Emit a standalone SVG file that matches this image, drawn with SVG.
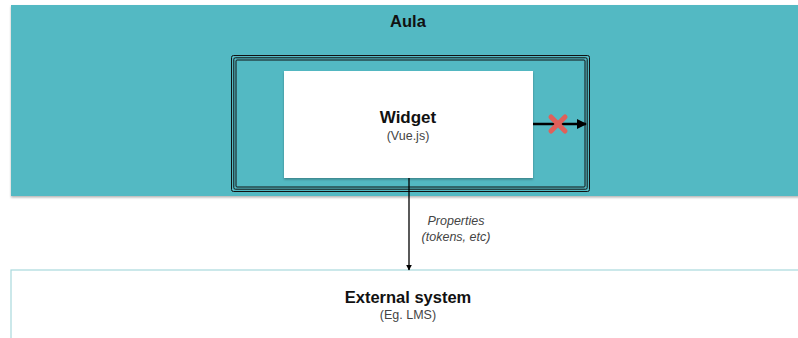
<svg xmlns="http://www.w3.org/2000/svg" width="798" height="338" viewBox="0 0 798 338">
<defs>
<style>
text{font-family:"Liberation Sans",Arial,sans-serif;text-anchor:middle}
.t{font-weight:bold;fill:#111}
.s{fill:#444;font-size:12.5px}
.frame{fill:none;stroke:#111;stroke-width:1}
</style>
<filter id="sh" x="-5%" y="-5%" width="110%" height="120%">
<feDropShadow dx="0" dy="1.5" stdDeviation="1.2" flood-color="#000" flood-opacity="0.3"/>
</filter>
<marker id="ah" viewBox="0 0 10 10" refX="9" refY="5" markerWidth="6" markerHeight="6" markerUnits="userSpaceOnUse" orient="auto">
<path d="M0,0L10,5L0,10z" fill="#000"/>
</marker>
<marker id="ah2" viewBox="0 0 10 10" refX="9" refY="5" markerWidth="4" markerHeight="4" orient="auto">
<path d="M0,0L10,5L0,10z" fill="#000"/>
</marker>
</defs>
<g id="aula">
<rect x="11" y="5" width="800" height="191" fill="#52B9C3" filter="url(#sh)"/>
<text class="t" x="408" y="27" font-size="16.5">Aula</text>
</g>
<g id="frame">
<rect class="frame" x="231.5" y="55.5" width="358" height="136" rx="2"/>
<rect class="frame" x="233.8" y="57.8" width="353.4" height="131.4" rx="1.5"/>
<rect class="frame" x="236" y="60" width="349" height="127" rx="1"/>
</g>
<g id="widget">
<rect x="284" y="71" width="249" height="107" fill="#fff" filter="url(#sh)"/>
<text class="t" x="408" y="123" font-size="17">Widget</text>
<text class="s" x="408" y="140">(Vue.js)</text>
</g>
<g id="external">
<rect x="11" y="270" width="800" height="80" fill="#fff" stroke="#A9D9DD" stroke-width="1.2"/>
<text class="t" x="408" y="303" font-size="16.5">External system</text>
<text class="s" x="408" y="319">(Eg. LMS)</text>
</g>
<g id="connectors">
<line x1="409" y1="178" x2="409" y2="270" stroke="#000" stroke-width="1.3" marker-end="url(#ah)"/>
<text class="s" x="456" y="225" font-style="italic">Properties</text>
<text class="s" x="456" y="241" font-style="italic">(tokens, etc)</text>
<line x1="533" y1="124" x2="586" y2="124" stroke="#000" stroke-width="2.5" marker-end="url(#ah2)"/>
<g id="blocked" stroke="#E0605A" stroke-width="5" stroke-linecap="round">
<line x1="551" y1="117" x2="565" y2="131"/>
<line x1="565" y1="117" x2="551" y2="131"/>
</g>
</g>
</svg>
